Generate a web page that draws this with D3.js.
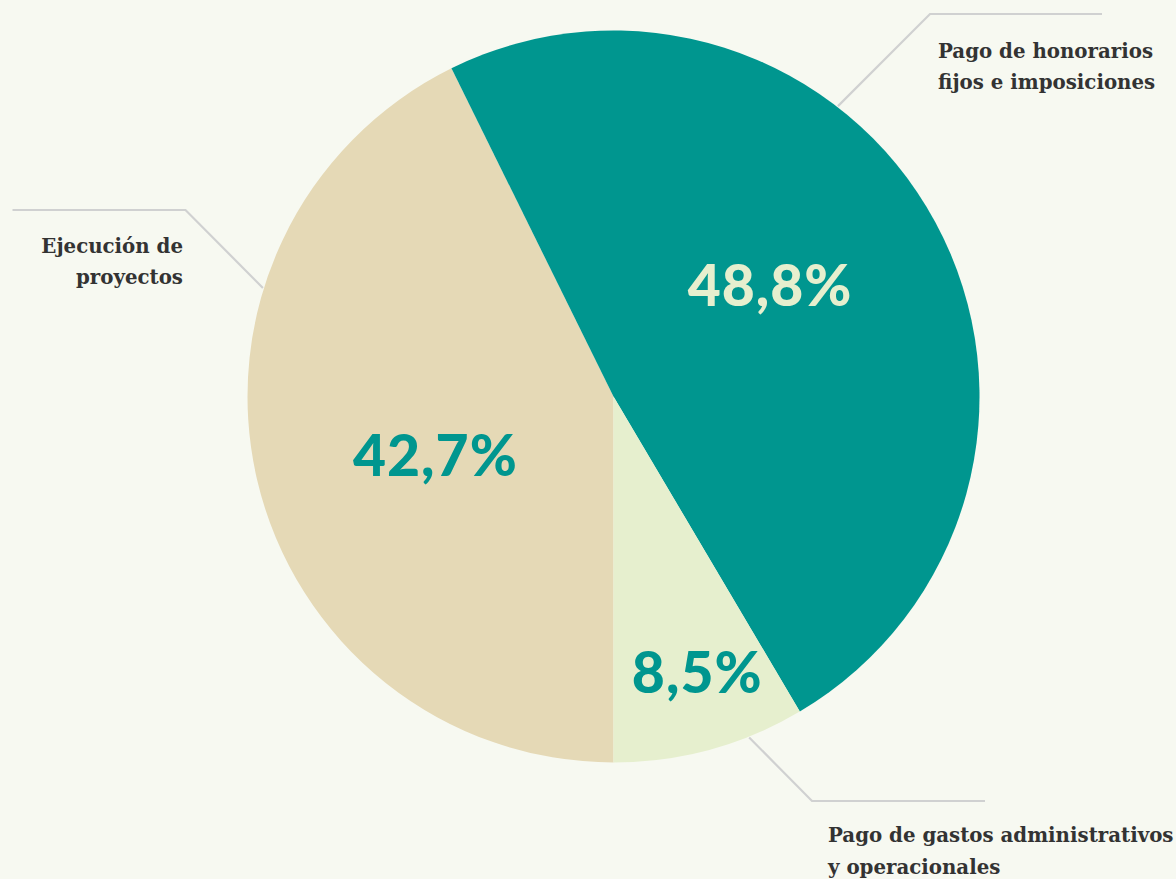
<!DOCTYPE html>
<html>
<head>
<meta charset="utf-8">
<script src="https://cdn.jsdelivr.net/npm/d3@7"></script>
<style>
  html, body { margin: 0; padding: 0; background: #f7f9f1; }
  svg { display: block; }
</style>
</head>
<body>
<script>
const width = 1176;
const height = 879;

// data
const categories = ["Ejecución de proyectos", "Pago de honorarios fijos e imposiciones", "Pago de gastos administrativos y operacionales"];
const values = [42.7, 48.8, 8.5];
const valueLabels = ["42,7%", "48,8%", "8,5%"];
const labelLines = [["Ejecución de", "proyectos"], ["Pago de honorarios", "fijos e imposiciones"], ["Pago de gastos administrativos", "y operacionales"]];

const colors = ["#e5d9b6", "#00968f", "#e6efce"];
const textColors = ["#00968f", "#e6efce", "#00968f"];

const cx = 613.5, cy = 396.5, radius = 366;

let svg = d3.select('body')
            .append('svg')
            .attr('width', width)
            .attr('height', height);

svg.append('rect')
   .attr('width', width)
   .attr('height', height)
   .attr('fill', '#f7f9f1');

let pie = d3.pie()
            .sort(null)
            .startAngle(Math.PI)
            .endAngle(3 * Math.PI)
            .value(d => d);

let arcs = pie(values);

let arc = d3.arc()
            .innerRadius(0)
            .outerRadius(radius);

let g = svg.append('g')
           .attr('transform', `translate(${cx}, ${cy})`);

g.selectAll('path.slice')
 .data(arcs)
 .enter()
 .append('path')
 .attr('class', 'slice')
 .attr('d', arc)
 .attr('fill', (d, i) => colors[i]);

// percentage labels: small shift from each slice's mid angle, own radius
const labelShift = [-5.3, -7, -1.6];   // degrees
const labelRatio = [0.513, 0.525, 0.787];
g.selectAll('text.pct')
 .data(arcs)
 .enter()
 .append('text')
 .attr('class', 'pct')
 .attr('transform', (d, i) => {
     let a = (d.startAngle + d.endAngle) / 2 + labelShift[i] * Math.PI / 180;
     let r = radius * labelRatio[i];
     return `translate(${Math.sin(a) * r}, ${-Math.cos(a) * r})`;
 })
 .attr('text-anchor', 'middle')
 .attr('dy', '0.36em')
 .attr('fill', (d, i) => textColors[i])
 .style('font-family', 'Lato, "Open Sans", sans-serif')
 .style('font-weight', 900)
 .style('font-size', '57px')
 .style('letter-spacing', '1px')
 .text((d, i) => valueLabels[i]);

// leader lines: angle on the rim, elbow offset, horizontal run
const leaders = [
    { angle: 287.2, elbow: [-428, -186.5], run: -173, tx: -430.5, ty: -144, anchor: 'end' },
    { angle: 37.7, elbow: [316.5, -382.5], run: 172, tx: 324.5, ty: -339, anchor: 'start' },
    { angle: 158.3, elbow: [198.5, 404.5], run: 173, tx: 214.5, ty: 445.5, anchor: 'start' }
];

leaders.forEach((l, i) => {
    let a = l.angle * Math.PI / 180;
    let sx = Math.sin(a) * (radius + 1);
    let sy = -Math.cos(a) * (radius + 1);
    let path = d3.path();
    path.moveTo(sx, sy);
    path.lineTo(l.elbow[0], l.elbow[1]);
    path.lineTo(l.elbow[0] + l.run, l.elbow[1]);
    g.append('path')
     .attr('d', path.toString())
     .attr('fill', 'none')
     .attr('stroke', '#d0d1d1')
     .attr('stroke-width', 2.2);

    let t = g.append('text')
             .attr('x', l.tx)
             .attr('y', l.ty)
             .attr('text-anchor', l.anchor)
             .attr('fill', '#333333')
             .style('font-family', '"DejaVu Serif", serif')
             .style('font-weight', 700)
             .style('font-size', '19.8px');
    labelLines[i].forEach((line, j) => {
        t.append('tspan')
         .attr('x', l.tx)
         .attr('dy', j === 0 ? 0 : 31.5)
         .text(line);
    });
});
</script>
</body>
</html>
